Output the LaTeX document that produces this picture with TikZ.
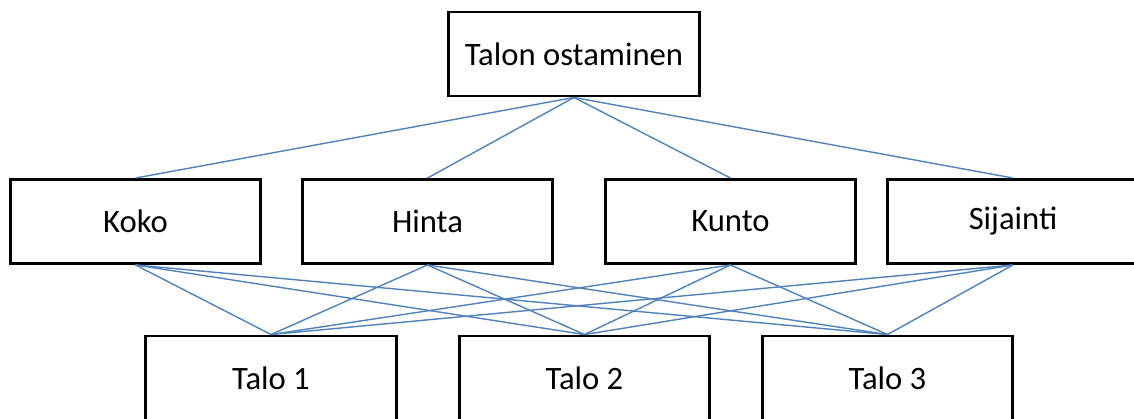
\documentclass[tikz,border=0pt]{standalone}
\usepackage{fontspec}
\setmainfont{Carlito}
\usetikzlibrary{positioning}

\definecolor{linkblue}{RGB}{79,129,189}
\tikzset{
  box/.style={draw, rectangle, line width=2.2pt, minimum width=188pt,
    minimum height=63pt, inner sep=0pt, font=\fontsize{24.5}{28}\selectfont},
  link/.style={linkblue, line width=1.05pt}
}

\begin{document}
\begin{tikzpicture}[x=0.75pt, y=-0.75pt]
\useasboundingbox (0,0) rectangle (1134,418);
% goal
\node[box] (goal) at (574,54) {Talon ostaminen};
% criteria
\node[box] (koko) at (135.5,221.5) {Koko};
\node[box] (hinta) at (427.5,221.5) {Hinta};
\node[box] (kunto) at (730.5,221.5) {Kunto};
\node[box] (sijainti) at (1013,221.5) {Sijainti};
% alternatives
\node[box] (talo1) at (271,378) {Talo 1};
\node[box] (talo2) at (584.5,378) {Talo 2};
\node[box] (talo3) at (887.5,378) {Talo 3};
% links
\foreach \c in {koko,hinta,kunto,sijainti}{
  \draw[link] (goal.south) -- (\c.north);
  \foreach \t in {talo1,talo2,talo3}
    \draw[link] (\c.south) -- (\t.north);
}
\end{tikzpicture}
\end{document}
